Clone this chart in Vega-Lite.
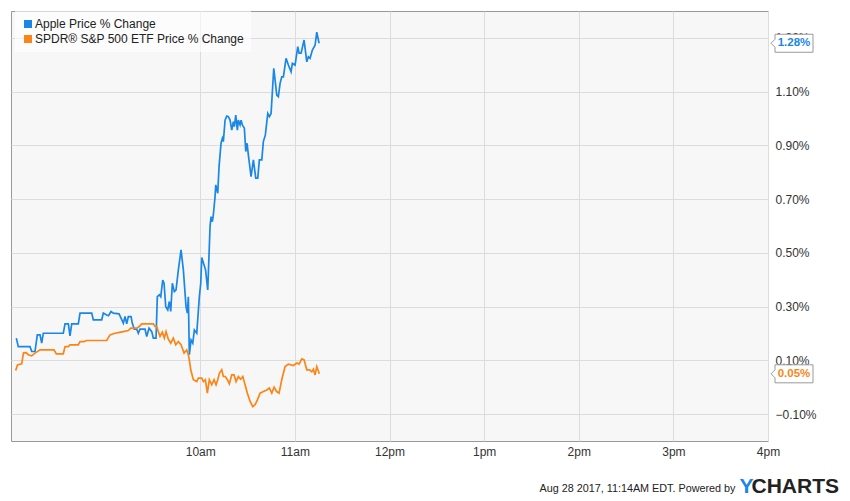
{
  "$schema": "https://vega.github.io/schema/vega-lite/v6.json",
  "width": 757,
  "height": 430,
  "autosize": {"type": "none"},
  "padding": {"left": 11, "top": 11, "right": 82, "bottom": 60},
  "background": "#ffffff",
  "config": {
    "font": "Liberation Sans",
    "view": {"fill": "#f7f7f7", "stroke": "#999999", "strokeWidth": 1},
    "axis": {"gridColor": "#dcdcdc", "gridWidth": 1, "domain": false, "ticks": false, "labelFontSize": 12, "labelColor": "#333333", "labelFont": "Liberation Sans"}
  },
  "title": {
    "text": "CHARTS",
    "orient": "bottom",
    "anchor": "end",
    "frame": "group",
    "font": "Liberation Sans",
    "fontSize": 21,
    "fontWeight": "bold",
    "color": "#222222",
    "dx": 71,
    "dy": -20,
    "offset": 0
  },
  "datasets": {
    "main": [
      {"time": "2017-08-28T08:03:22", "series": "Apple Price % Change", "pct": 0.183},
      {"time": "2017-08-28T08:04:38", "series": "Apple Price % Change", "pct": 0.151},
      {"time": "2017-08-28T08:12:03", "series": "Apple Price % Change", "pct": 0.151},
      {"time": "2017-08-28T08:13:08", "series": "Apple Price % Change", "pct": 0.133},
      {"time": "2017-08-28T08:15:13", "series": "Apple Price % Change", "pct": 0.133},
      {"time": "2017-08-28T08:16:41", "series": "Apple Price % Change", "pct": 0.195},
      {"time": "2017-08-28T08:18:24", "series": "Apple Price % Change", "pct": 0.195},
      {"time": "2017-08-28T08:19:28", "series": "Apple Price % Change", "pct": 0.164},
      {"time": "2017-08-28T08:20:29", "series": "Apple Price % Change", "pct": 0.201},
      {"time": "2017-08-28T08:33:10", "series": "Apple Price % Change", "pct": 0.201},
      {"time": "2017-08-28T08:34:15", "series": "Apple Price % Change", "pct": 0.236},
      {"time": "2017-08-28T08:36:21", "series": "Apple Price % Change", "pct": 0.236},
      {"time": "2017-08-28T08:37:25", "series": "Apple Price % Change", "pct": 0.191},
      {"time": "2017-08-28T08:38:30", "series": "Apple Price % Change", "pct": 0.236},
      {"time": "2017-08-28T08:42:41", "series": "Apple Price % Change", "pct": 0.236},
      {"time": "2017-08-28T08:43:46", "series": "Apple Price % Change", "pct": 0.276},
      {"time": "2017-08-28T08:51:11", "series": "Apple Price % Change", "pct": 0.276},
      {"time": "2017-08-28T08:52:12", "series": "Apple Price % Change", "pct": 0.251},
      {"time": "2017-08-28T08:57:32", "series": "Apple Price % Change", "pct": 0.251},
      {"time": "2017-08-28T08:58:32", "series": "Apple Price % Change", "pct": 0.276},
      {"time": "2017-08-28T09:00:42", "series": "Apple Price % Change", "pct": 0.269},
      {"time": "2017-08-28T09:01:50", "series": "Apple Price % Change", "pct": 0.266},
      {"time": "2017-08-28T09:03:26", "series": "Apple Price % Change", "pct": 0.282},
      {"time": "2017-08-28T09:04:53", "series": "Apple Price % Change", "pct": 0.276},
      {"time": "2017-08-28T09:08:30", "series": "Apple Price % Change", "pct": 0.273},
      {"time": "2017-08-28T09:09:46", "series": "Apple Price % Change", "pct": 0.257},
      {"time": "2017-08-28T09:11:14", "series": "Apple Price % Change", "pct": 0.238},
      {"time": "2017-08-28T09:12:18", "series": "Apple Price % Change", "pct": 0.263},
      {"time": "2017-08-28T09:13:23", "series": "Apple Price % Change", "pct": 0.236},
      {"time": "2017-08-28T09:14:24", "series": "Apple Price % Change", "pct": 0.263},
      {"time": "2017-08-28T09:16:07", "series": "Apple Price % Change", "pct": 0.263},
      {"time": "2017-08-28T09:16:56", "series": "Apple Price % Change", "pct": 0.238},
      {"time": "2017-08-28T09:18:12", "series": "Apple Price % Change", "pct": 0.216},
      {"time": "2017-08-28T09:19:44", "series": "Apple Price % Change", "pct": 0.216},
      {"time": "2017-08-28T09:20:44", "series": "Apple Price % Change", "pct": 0.201},
      {"time": "2017-08-28T09:21:49", "series": "Apple Price % Change", "pct": 0.216},
      {"time": "2017-08-28T09:24:59", "series": "Apple Price % Change", "pct": 0.216},
      {"time": "2017-08-28T09:26:04", "series": "Apple Price % Change", "pct": 0.189},
      {"time": "2017-08-28T09:27:32", "series": "Apple Price % Change", "pct": 0.220},
      {"time": "2017-08-28T09:29:14", "series": "Apple Price % Change", "pct": 0.207},
      {"time": "2017-08-28T09:30:15", "series": "Apple Price % Change", "pct": 0.183},
      {"time": "2017-08-28T09:31:58", "series": "Apple Price % Change", "pct": 0.183},
      {"time": "2017-08-28T09:32:47", "series": "Apple Price % Change", "pct": 0.337},
      {"time": "2017-08-28T09:34:04", "series": "Apple Price % Change", "pct": 0.344},
      {"time": "2017-08-28T09:34:57", "series": "Apple Price % Change", "pct": 0.337},
      {"time": "2017-08-28T09:36:13", "series": "Apple Price % Change", "pct": 0.399},
      {"time": "2017-08-28T09:37:02", "series": "Apple Price % Change", "pct": 0.387},
      {"time": "2017-08-28T09:38:07", "series": "Apple Price % Change", "pct": 0.300},
      {"time": "2017-08-28T09:39:23", "series": "Apple Price % Change", "pct": 0.288},
      {"time": "2017-08-28T09:40:24", "series": "Apple Price % Change", "pct": 0.319},
      {"time": "2017-08-28T09:41:17", "series": "Apple Price % Change", "pct": 0.282},
      {"time": "2017-08-28T09:42:18", "series": "Apple Price % Change", "pct": 0.387},
      {"time": "2017-08-28T09:43:34", "series": "Apple Price % Change", "pct": 0.356},
      {"time": "2017-08-28T09:44:39", "series": "Apple Price % Change", "pct": 0.362},
      {"time": "2017-08-28T09:46:07", "series": "Apple Price % Change", "pct": 0.437},
      {"time": "2017-08-28T09:47:49", "series": "Apple Price % Change", "pct": 0.511},
      {"time": "2017-08-28T09:49:17", "series": "Apple Price % Change", "pct": 0.437},
      {"time": "2017-08-28T09:50:59", "series": "Apple Price % Change", "pct": 0.300},
      {"time": "2017-08-28T09:51:49", "series": "Apple Price % Change", "pct": 0.276},
      {"time": "2017-08-28T09:52:27", "series": "Apple Price % Change", "pct": 0.337},
      {"time": "2017-08-28T09:53:05", "series": "Apple Price % Change", "pct": 0.121},
      {"time": "2017-08-28T09:54:10", "series": "Apple Price % Change", "pct": 0.176},
      {"time": "2017-08-28T09:55:15", "series": "Apple Price % Change", "pct": 0.164},
      {"time": "2017-08-28T09:56:16", "series": "Apple Price % Change", "pct": 0.213},
      {"time": "2017-08-28T09:57:47", "series": "Apple Price % Change", "pct": 0.201},
      {"time": "2017-08-28T09:59:26", "series": "Apple Price % Change", "pct": 0.337},
      {"time": "2017-08-28T10:00:19", "series": "Apple Price % Change", "pct": 0.387},
      {"time": "2017-08-28T10:00:57", "series": "Apple Price % Change", "pct": 0.483},
      {"time": "2017-08-28T10:02:25", "series": "Apple Price % Change", "pct": 0.455},
      {"time": "2017-08-28T10:03:22", "series": "Apple Price % Change", "pct": 0.437},
      {"time": "2017-08-28T10:04:45", "series": "Apple Price % Change", "pct": 0.362},
      {"time": "2017-08-28T10:06:13", "series": "Apple Price % Change", "pct": 0.598},
      {"time": "2017-08-28T10:06:51", "series": "Apple Price % Change", "pct": 0.635},
      {"time": "2017-08-28T10:07:40", "series": "Apple Price % Change", "pct": 0.616},
      {"time": "2017-08-28T10:08:18", "series": "Apple Price % Change", "pct": 0.641},
      {"time": "2017-08-28T10:09:23", "series": "Apple Price % Change", "pct": 0.709},
      {"time": "2017-08-28T10:09:50", "series": "Apple Price % Change", "pct": 0.753},
      {"time": "2017-08-28T10:11:06", "series": "Apple Price % Change", "pct": 0.722},
      {"time": "2017-08-28T10:11:55", "series": "Apple Price % Change", "pct": 0.821},
      {"time": "2017-08-28T10:13:11", "series": "Apple Price % Change", "pct": 0.908},
      {"time": "2017-08-28T10:14:01", "series": "Apple Price % Change", "pct": 0.926},
      {"time": "2017-08-28T10:14:39", "series": "Apple Price % Change", "pct": 0.914},
      {"time": "2017-08-28T10:15:44", "series": "Apple Price % Change", "pct": 0.994},
      {"time": "2017-08-28T10:16:49", "series": "Apple Price % Change", "pct": 1.009},
      {"time": "2017-08-28T10:17:49", "series": "Apple Price % Change", "pct": 1.007},
      {"time": "2017-08-28T10:18:54", "series": "Apple Price % Change", "pct": 0.994},
      {"time": "2017-08-28T10:19:59", "series": "Apple Price % Change", "pct": 0.957},
      {"time": "2017-08-28T10:20:59", "series": "Apple Price % Change", "pct": 0.988},
      {"time": "2017-08-28T10:21:38", "series": "Apple Price % Change", "pct": 0.970},
      {"time": "2017-08-28T10:22:31", "series": "Apple Price % Change", "pct": 1.013},
      {"time": "2017-08-28T10:23:32", "series": "Apple Price % Change", "pct": 0.957},
      {"time": "2017-08-28T10:24:10", "series": "Apple Price % Change", "pct": 0.994},
      {"time": "2017-08-28T10:25:15", "series": "Apple Price % Change", "pct": 0.976},
      {"time": "2017-08-28T10:25:53", "series": "Apple Price % Change", "pct": 0.994},
      {"time": "2017-08-28T10:26:42", "series": "Apple Price % Change", "pct": 0.976},
      {"time": "2017-08-28T10:27:58", "series": "Apple Price % Change", "pct": 0.964},
      {"time": "2017-08-28T10:28:52", "series": "Apple Price % Change", "pct": 0.877},
      {"time": "2017-08-28T10:29:41", "series": "Apple Price % Change", "pct": 0.908},
      {"time": "2017-08-28T10:30:31", "series": "Apple Price % Change", "pct": 0.864},
      {"time": "2017-08-28T10:32:13", "series": "Apple Price % Change", "pct": 0.784},
      {"time": "2017-08-28T10:33:41", "series": "Apple Price % Change", "pct": 0.846},
      {"time": "2017-08-28T10:35:12", "series": "Apple Price % Change", "pct": 0.778},
      {"time": "2017-08-28T10:36:28", "series": "Apple Price % Change", "pct": 0.778},
      {"time": "2017-08-28T10:37:29", "series": "Apple Price % Change", "pct": 0.846},
      {"time": "2017-08-28T10:39:01", "series": "Apple Price % Change", "pct": 0.846},
      {"time": "2017-08-28T10:40:01", "series": "Apple Price % Change", "pct": 0.914},
      {"time": "2017-08-28T10:41:17", "series": "Apple Price % Change", "pct": 0.939},
      {"time": "2017-08-28T10:42:49", "series": "Apple Price % Change", "pct": 1.019},
      {"time": "2017-08-28T10:43:50", "series": "Apple Price % Change", "pct": 1.007},
      {"time": "2017-08-28T10:44:55", "series": "Apple Price % Change", "pct": 1.019},
      {"time": "2017-08-28T10:46:37", "series": "Apple Price % Change", "pct": 1.187},
      {"time": "2017-08-28T10:48:31", "series": "Apple Price % Change", "pct": 1.087},
      {"time": "2017-08-28T10:49:32", "series": "Apple Price % Change", "pct": 1.081},
      {"time": "2017-08-28T10:50:37", "series": "Apple Price % Change", "pct": 1.131},
      {"time": "2017-08-28T10:51:41", "series": "Apple Price % Change", "pct": 1.155},
      {"time": "2017-08-28T10:52:43", "series": "Apple Price % Change", "pct": 1.155},
      {"time": "2017-08-28T10:54:25", "series": "Apple Price % Change", "pct": 1.224},
      {"time": "2017-08-28T10:55:53", "series": "Apple Price % Change", "pct": 1.199},
      {"time": "2017-08-28T10:57:35", "series": "Apple Price % Change", "pct": 1.174},
      {"time": "2017-08-28T10:58:25", "series": "Apple Price % Change", "pct": 1.205},
      {"time": "2017-08-28T11:00:08", "series": "Apple Price % Change", "pct": 1.199},
      {"time": "2017-08-28T11:01:50", "series": "Apple Price % Change", "pct": 1.267},
      {"time": "2017-08-28T11:02:40", "series": "Apple Price % Change", "pct": 1.243},
      {"time": "2017-08-28T11:03:56", "series": "Apple Price % Change", "pct": 1.243},
      {"time": "2017-08-28T11:05:50", "series": "Apple Price % Change", "pct": 1.292},
      {"time": "2017-08-28T11:07:33", "series": "Apple Price % Change", "pct": 1.211},
      {"time": "2017-08-28T11:08:34", "series": "Apple Price % Change", "pct": 1.230},
      {"time": "2017-08-28T11:09:38", "series": "Apple Price % Change", "pct": 1.224},
      {"time": "2017-08-28T11:11:06", "series": "Apple Price % Change", "pct": 1.255},
      {"time": "2017-08-28T11:12:49", "series": "Apple Price % Change", "pct": 1.273},
      {"time": "2017-08-28T11:13:53", "series": "Apple Price % Change", "pct": 1.321},
      {"time": "2017-08-28T11:15:21", "series": "Apple Price % Change", "pct": 1.28},
      {"time": "2017-08-28T08:02:59", "series": "SPDR® S&P 500 ETF Price % Change", "pct": 0.062},
      {"time": "2017-08-28T08:04:07", "series": "SPDR® S&P 500 ETF Price % Change", "pct": 0.083},
      {"time": "2017-08-28T08:06:47", "series": "SPDR® S&P 500 ETF Price % Change", "pct": 0.087},
      {"time": "2017-08-28T08:07:56", "series": "SPDR® S&P 500 ETF Price % Change", "pct": 0.128},
      {"time": "2017-08-28T08:09:31", "series": "SPDR® S&P 500 ETF Price % Change", "pct": 0.129},
      {"time": "2017-08-28T08:10:58", "series": "SPDR® S&P 500 ETF Price % Change", "pct": 0.121},
      {"time": "2017-08-28T08:13:08", "series": "SPDR® S&P 500 ETF Price % Change", "pct": 0.117},
      {"time": "2017-08-28T08:15:13", "series": "SPDR® S&P 500 ETF Price % Change", "pct": 0.127},
      {"time": "2017-08-28T08:18:24", "series": "SPDR® S&P 500 ETF Price % Change", "pct": 0.139},
      {"time": "2017-08-28T08:27:16", "series": "SPDR® S&P 500 ETF Price % Change", "pct": 0.139},
      {"time": "2017-08-28T08:28:44", "series": "SPDR® S&P 500 ETF Price % Change", "pct": 0.124},
      {"time": "2017-08-28T08:33:10", "series": "SPDR® S&P 500 ETF Price % Change", "pct": 0.124},
      {"time": "2017-08-28T08:34:15", "series": "SPDR® S&P 500 ETF Price % Change", "pct": 0.151},
      {"time": "2017-08-28T08:36:21", "series": "SPDR® S&P 500 ETF Price % Change", "pct": 0.151},
      {"time": "2017-08-28T08:37:25", "series": "SPDR® S&P 500 ETF Price % Change", "pct": 0.158},
      {"time": "2017-08-28T08:42:41", "series": "SPDR® S&P 500 ETF Price % Change", "pct": 0.158},
      {"time": "2017-08-28T08:43:46", "series": "SPDR® S&P 500 ETF Price % Change", "pct": 0.170},
      {"time": "2017-08-28T08:46:18", "series": "SPDR® S&P 500 ETF Price % Change", "pct": 0.170},
      {"time": "2017-08-28T08:48:01", "series": "SPDR® S&P 500 ETF Price % Change", "pct": 0.174},
      {"time": "2017-08-28T09:00:42", "series": "SPDR® S&P 500 ETF Price % Change", "pct": 0.174},
      {"time": "2017-08-28T09:02:47", "series": "SPDR® S&P 500 ETF Price % Change", "pct": 0.195},
      {"time": "2017-08-28T09:05:58", "series": "SPDR® S&P 500 ETF Price % Change", "pct": 0.201},
      {"time": "2017-08-28T09:08:03", "series": "SPDR® S&P 500 ETF Price % Change", "pct": 0.203},
      {"time": "2017-08-28T09:11:14", "series": "SPDR® S&P 500 ETF Price % Change", "pct": 0.207},
      {"time": "2017-08-28T09:14:24", "series": "SPDR® S&P 500 ETF Price % Change", "pct": 0.211},
      {"time": "2017-08-28T09:15:55", "series": "SPDR® S&P 500 ETF Price % Change", "pct": 0.220},
      {"time": "2017-08-28T09:19:44", "series": "SPDR® S&P 500 ETF Price % Change", "pct": 0.220},
      {"time": "2017-08-28T09:21:22", "series": "SPDR® S&P 500 ETF Price % Change", "pct": 0.226},
      {"time": "2017-08-28T09:22:54", "series": "SPDR® S&P 500 ETF Price % Change", "pct": 0.236},
      {"time": "2017-08-28T09:30:15", "series": "SPDR® S&P 500 ETF Price % Change", "pct": 0.236},
      {"time": "2017-08-28T09:31:20", "series": "SPDR® S&P 500 ETF Price % Change", "pct": 0.226},
      {"time": "2017-08-28T09:32:25", "series": "SPDR® S&P 500 ETF Price % Change", "pct": 0.226},
      {"time": "2017-08-28T09:33:25", "series": "SPDR® S&P 500 ETF Price % Change", "pct": 0.207},
      {"time": "2017-08-28T09:34:30", "series": "SPDR® S&P 500 ETF Price % Change", "pct": 0.189},
      {"time": "2017-08-28T09:35:58", "series": "SPDR® S&P 500 ETF Price % Change", "pct": 0.205},
      {"time": "2017-08-28T09:37:14", "series": "SPDR® S&P 500 ETF Price % Change", "pct": 0.183},
      {"time": "2017-08-28T09:38:19", "series": "SPDR® S&P 500 ETF Price % Change", "pct": 0.207},
      {"time": "2017-08-28T09:39:46", "series": "SPDR® S&P 500 ETF Price % Change", "pct": 0.179},
      {"time": "2017-08-28T09:41:17", "series": "SPDR® S&P 500 ETF Price % Change", "pct": 0.164},
      {"time": "2017-08-28T09:42:56", "series": "SPDR® S&P 500 ETF Price % Change", "pct": 0.183},
      {"time": "2017-08-28T09:44:28", "series": "SPDR® S&P 500 ETF Price % Change", "pct": 0.158},
      {"time": "2017-08-28T09:46:07", "series": "SPDR® S&P 500 ETF Price % Change", "pct": 0.170},
      {"time": "2017-08-28T09:47:49", "series": "SPDR® S&P 500 ETF Price % Change", "pct": 0.158},
      {"time": "2017-08-28T09:49:44", "series": "SPDR® S&P 500 ETF Price % Change", "pct": 0.127},
      {"time": "2017-08-28T09:51:26", "series": "SPDR® S&P 500 ETF Price % Change", "pct": 0.139},
      {"time": "2017-08-28T09:52:27", "series": "SPDR® S&P 500 ETF Price % Change", "pct": 0.121},
      {"time": "2017-08-28T09:53:05", "series": "SPDR® S&P 500 ETF Price % Change", "pct": 0.102},
      {"time": "2017-08-28T09:53:58", "series": "SPDR® S&P 500 ETF Price % Change", "pct": 0.065},
      {"time": "2017-08-28T09:55:37", "series": "SPDR® S&P 500 ETF Price % Change", "pct": 0.028},
      {"time": "2017-08-28T09:57:47", "series": "SPDR® S&P 500 ETF Price % Change", "pct": 0.021},
      {"time": "2017-08-28T09:58:48", "series": "SPDR® S&P 500 ETF Price % Change", "pct": 0.034},
      {"time": "2017-08-28T10:00:57", "series": "SPDR® S&P 500 ETF Price % Change", "pct": 0.034},
      {"time": "2017-08-28T10:01:58", "series": "SPDR® S&P 500 ETF Price % Change", "pct": 0.021},
      {"time": "2017-08-28T10:03:14", "series": "SPDR® S&P 500 ETF Price % Change", "pct": 0.028},
      {"time": "2017-08-28T10:04:30", "series": "SPDR® S&P 500 ETF Price % Change", "pct": -0.022},
      {"time": "2017-08-28T10:05:46", "series": "SPDR® S&P 500 ETF Price % Change", "pct": 0.028},
      {"time": "2017-08-28T10:07:17", "series": "SPDR® S&P 500 ETF Price % Change", "pct": 0.009},
      {"time": "2017-08-28T10:08:45", "series": "SPDR® S&P 500 ETF Price % Change", "pct": 0.028},
      {"time": "2017-08-28T10:10:01", "series": "SPDR® S&P 500 ETF Price % Change", "pct": 0.009},
      {"time": "2017-08-28T10:11:06", "series": "SPDR® S&P 500 ETF Price % Change", "pct": 0.028},
      {"time": "2017-08-28T10:12:07", "series": "SPDR® S&P 500 ETF Price % Change", "pct": 0.052},
      {"time": "2017-08-28T10:13:38", "series": "SPDR® S&P 500 ETF Price % Change", "pct": 0.065},
      {"time": "2017-08-28T10:14:39", "series": "SPDR® S&P 500 ETF Price % Change", "pct": 0.040},
      {"time": "2017-08-28T10:15:55", "series": "SPDR® S&P 500 ETF Price % Change", "pct": 0.040},
      {"time": "2017-08-28T10:17:11", "series": "SPDR® S&P 500 ETF Price % Change", "pct": 0.028},
      {"time": "2017-08-28T10:18:28", "series": "SPDR® S&P 500 ETF Price % Change", "pct": 0.013},
      {"time": "2017-08-28T10:19:59", "series": "SPDR® S&P 500 ETF Price % Change", "pct": 0.046},
      {"time": "2017-08-28T10:21:26", "series": "SPDR® S&P 500 ETF Price % Change", "pct": 0.046},
      {"time": "2017-08-28T10:22:43", "series": "SPDR® S&P 500 ETF Price % Change", "pct": 0.021},
      {"time": "2017-08-28T10:24:10", "series": "SPDR® S&P 500 ETF Price % Change", "pct": 0.040},
      {"time": "2017-08-28T10:25:35", "series": "SPDR® S&P 500 ETF Price % Change", "pct": 0.030},
      {"time": "2017-08-28T10:26:59", "series": "SPDR® S&P 500 ETF Price % Change", "pct": 0.040},
      {"time": "2017-08-28T10:28:25", "series": "SPDR® S&P 500 ETF Price % Change", "pct": 0.009},
      {"time": "2017-08-28T10:29:53", "series": "SPDR® S&P 500 ETF Price % Change", "pct": -0.022},
      {"time": "2017-08-28T10:31:37", "series": "SPDR® S&P 500 ETF Price % Change", "pct": -0.053},
      {"time": "2017-08-28T10:33:19", "series": "SPDR® S&P 500 ETF Price % Change", "pct": -0.072},
      {"time": "2017-08-28T10:34:47", "series": "SPDR® S&P 500 ETF Price % Change", "pct": -0.065},
      {"time": "2017-08-28T10:36:14", "series": "SPDR® S&P 500 ETF Price % Change", "pct": -0.047},
      {"time": "2017-08-28T10:37:57", "series": "SPDR® S&P 500 ETF Price % Change", "pct": -0.022},
      {"time": "2017-08-28T10:40:02", "series": "SPDR® S&P 500 ETF Price % Change", "pct": -0.016},
      {"time": "2017-08-28T10:42:11", "series": "SPDR® S&P 500 ETF Price % Change", "pct": -0.010},
      {"time": "2017-08-28T10:43:50", "series": "SPDR® S&P 500 ETF Price % Change", "pct": -0.003},
      {"time": "2017-08-28T10:45:22", "series": "SPDR® S&P 500 ETF Price % Change", "pct": -0.022},
      {"time": "2017-08-28T10:46:49", "series": "SPDR® S&P 500 ETF Price % Change", "pct": 0.000},
      {"time": "2017-08-28T10:48:25", "series": "SPDR® S&P 500 ETF Price % Change", "pct": -0.016},
      {"time": "2017-08-28T10:49:59", "series": "SPDR® S&P 500 ETF Price % Change", "pct": -0.022},
      {"time": "2017-08-28T10:51:41", "series": "SPDR® S&P 500 ETF Price % Change", "pct": 0.028},
      {"time": "2017-08-28T10:53:47", "series": "SPDR® S&P 500 ETF Price % Change", "pct": 0.077},
      {"time": "2017-08-28T10:55:53", "series": "SPDR® S&P 500 ETF Price % Change", "pct": 0.086},
      {"time": "2017-08-28T10:59:03", "series": "SPDR® S&P 500 ETF Price % Change", "pct": 0.081},
      {"time": "2017-08-28T11:01:14", "series": "SPDR® S&P 500 ETF Price % Change", "pct": 0.090},
      {"time": "2017-08-28T11:02:40", "series": "SPDR® S&P 500 ETF Price % Change", "pct": 0.086},
      {"time": "2017-08-28T11:04:24", "series": "SPDR® S&P 500 ETF Price % Change", "pct": 0.106},
      {"time": "2017-08-28T11:05:50", "series": "SPDR® S&P 500 ETF Price % Change", "pct": 0.102},
      {"time": "2017-08-28T11:07:33", "series": "SPDR® S&P 500 ETF Price % Change", "pct": 0.065},
      {"time": "2017-08-28T11:09:13", "series": "SPDR® S&P 500 ETF Price % Change", "pct": 0.065},
      {"time": "2017-08-28T11:10:44", "series": "SPDR® S&P 500 ETF Price % Change", "pct": 0.058},
      {"time": "2017-08-28T11:11:45", "series": "SPDR® S&P 500 ETF Price % Change", "pct": 0.067},
      {"time": "2017-08-28T11:12:49", "series": "SPDR® S&P 500 ETF Price % Change", "pct": 0.046},
      {"time": "2017-08-28T11:13:53", "series": "SPDR® S&P 500 ETF Price % Change", "pct": 0.077},
      {"time": "2017-08-28T11:15:32", "series": "SPDR® S&P 500 ETF Price % Change", "pct": 0.05}
    ],
    "last": [
      {"series": "Apple Price % Change", "pct": 1.28, "label": "1.28%"},
      {"series": "SPDR® S&P 500 ETF Price % Change", "pct": 0.05, "label": "0.05%"}
    ]
  },
  "layer": [
    {
      "data": {"name": "main"},
      "mark": {"type": "line", "strokeWidth": 1.7, "interpolate": "linear"},
      "encoding": {
        "x": {
          "field": "time",
          "type": "temporal",
          "scale": {"domain": [{"year": 2017, "month": 8, "date": 28, "hours": 8}, {"year": 2017, "month": 8, "date": 28, "hours": 16}]},
          "axis": {
            "orient": "bottom",
            "values": [
              {"year": 2017, "month": 8, "date": 28, "hours": 10},
              {"year": 2017, "month": 8, "date": 28, "hours": 11},
              {"year": 2017, "month": 8, "date": 28, "hours": 12},
              {"year": 2017, "month": 8, "date": 28, "hours": 13},
              {"year": 2017, "month": 8, "date": 28, "hours": 14},
              {"year": 2017, "month": 8, "date": 28, "hours": 15},
              {"year": 2017, "month": 8, "date": 28, "hours": 16}
            ],
            "labelExpr": "lower(timeFormat(datum.value, '%-I%p'))",
            "labelPadding": 5,
            "labelFlush": false,
            "grid": true,
            "title": "Aug 28 2017, 11:14AM EDT. Powered by",
            "titleFont": "Liberation Sans",
            "titleFontSize": 10.8,
            "titleFontWeight": "normal",
            "titleColor": "#222222",
            "titleAnchor": null,
            "titleAlign": "right",
            "titleBaseline": "alphabetic",
            "titleX": 724,
            "titleY": 50
          }
        },
        "y": {
          "field": "pct",
          "type": "quantitative",
          "scale": {"domain": [-0.2, 1.4], "nice": false, "zero": false},
          "axis": {
            "orient": "right",
            "values": [-0.1, 0.1, 0.3, 0.5, 0.7, 0.9, 1.1, 1.3],
            "labelExpr": "format(datum.value, '.2f') + '%'",
            "labelPadding": 7,
            "grid": true,
            "title": "Y",
            "titleAngle": 0,
            "titleFont": "Liberation Sans",
            "titleFontSize": 21,
            "titleFontWeight": "bold",
            "titleColor": "#1a87e6",
            "titleAlign": "center",
            "titleBaseline": "alphabetic",
            "titleAnchor": null,
            "titleX": -22,
            "titleY": 481
          }
        },
        "color": {
          "field": "series",
          "type": "nominal",
          "scale": {"domain": ["Apple Price % Change", "SPDR® S&P 500 ETF Price % Change"], "range": ["#1a87e6", "#fb8516"]},
          "legend": {
            "title": null,
            "orient": "none",
            "legendX": 4,
            "legendY": 0,
            "fillColor": "rgba(255,255,255,0.6)",
            "padding": 7,
            "rowPadding": 3,
            "symbolType": "square",
            "symbolSize": 64,
            "symbolStrokeWidth": 0,
            "labelFontSize": 12,
            "labelColor": "#222222",
            "labelOffset": 1,
            "labelLimit": 400,
            "encode": {"symbols": {"update": {"fill": {"scale": "color", "field": "value"}, "shape": {"value": "square"}, "strokeWidth": {"value": 0}}}}
          }
        }
      }
    },
    {
      "data": {"name": "last"},
      "mark": {"type": "point", "shape": "M3,0L7,-4L7,-9L45,-9L45,9L7,9L7,4Z", "size": 4, "filled": true, "fill": "#ffffff", "stroke": "#999999", "strokeWidth": 1, "opacity": 1},
      "encoding": {
        "x": {"datum": {"year": 2017, "month": 8, "date": 28, "hours": 16}, "type": "temporal"},
        "y": {"field": "pct", "type": "quantitative"}
      }
    },
    {
      "data": {"name": "last"},
      "mark": {"type": "text", "dx": 26, "align": "center", "baseline": "middle", "fontSize": 11.5, "fontWeight": "bold", "font": "Liberation Sans"},
      "encoding": {
        "x": {"datum": {"year": 2017, "month": 8, "date": 28, "hours": 16}, "type": "temporal"},
        "y": {"field": "pct", "type": "quantitative"},
        "text": {"field": "label"},
        "color": {"condition": {"test": "datum.series === 'Apple Price % Change'", "value": "#1a87e6"}, "value": "#fb8516"}
      }
    }
  ]
}
